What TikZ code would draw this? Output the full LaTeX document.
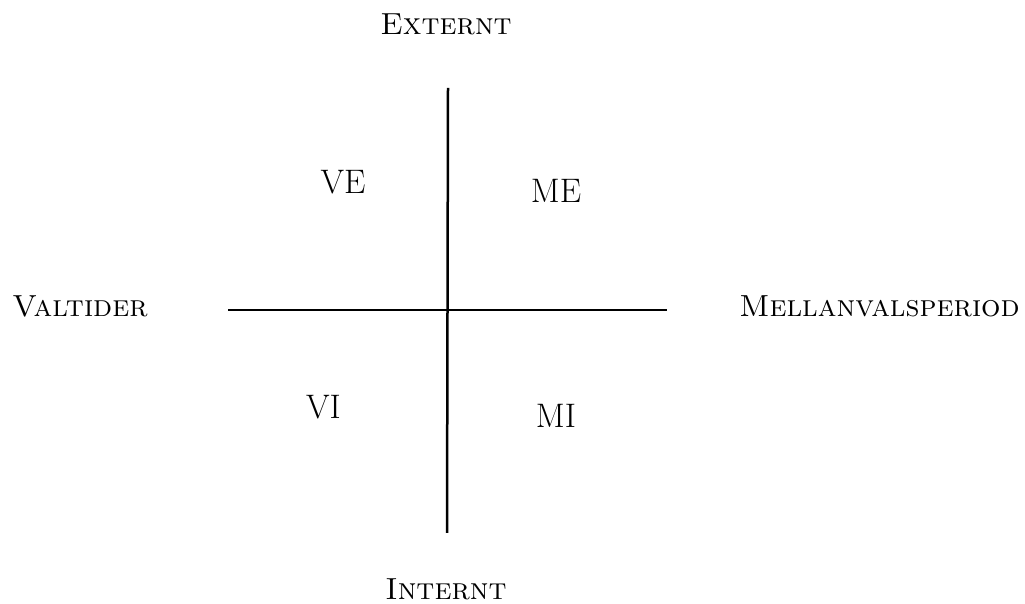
\documentclass[tikz,border=0pt]{standalone}
\usepackage{tikz}
\usetikzlibrary{positioning}

\begin{document}
\begin{tikzpicture}[
    x=1pt,y=1pt,
    axis/.style={line width=2.5pt,color=black},
    pole/.style={font=\fontsize{30.5}{37}\selectfont\scshape,anchor=base,inner sep=0pt},
    quad/.style={font=\fontsize{34}{41}\selectfont,anchor=base,inner sep=0pt}
]
\useasboundingbox (0,0) rectangle (1025,604);
% axes
\coordinate (top) at (448,516);
\coordinate (bottom) at (447,71);
\coordinate (left) at (228,294);
\coordinate (right) at (667,294);
\draw[axis] (top) -- (bottom);
\draw[axis] (left) -- (right);
% pole labels
\node[pole] (externt) at (446,569) {Externt};
\node[pole] (internt) at (446,4) {Internt};
\node[pole] (valtider) at (80,287) {Valtider};
\node[pole] (mellan) at (879.5,287) {Mellanvalsperiod};
% quadrants
\node[quad] (ve) at (343,410) {VE};
\node[quad] (me) at (556,401) {ME};
\node[quad] (vi) at (323.5,185) {VI};
\node[quad] (mi) at (556,176) {MI};
\end{tikzpicture}
\end{document}
